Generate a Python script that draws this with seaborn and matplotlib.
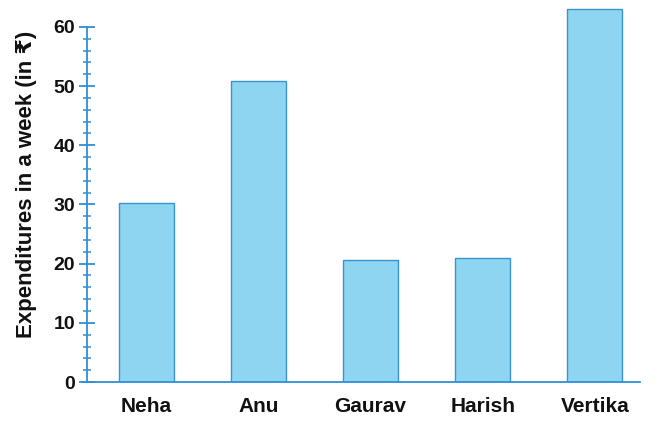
import matplotlib
matplotlib.use("Agg")
import matplotlib.pyplot as plt
import seaborn as sns
import pandas as pd
from matplotlib.ticker import MultipleLocator, FixedLocator

# values
names = ["Neha", "Anu", "Gaurav", "Harish", "Vertika"]
spend = [30.3, 50.8, 20.7, 21.0, 63.0]

sns.set_style("white")
plt.rcParams['font.family'] = ['Liberation Sans', 'DejaVu Sans']

axis_blue = "#2f8fd6"
bar_fill = "#8dd5f0"
bar_edge = "#3794cc"

df = pd.DataFrame({"name": names, "spend": spend})

fig = plt.figure(figsize=(6.72, 4.21), dpi=100)
ax = fig.add_axes([0.124, 0.0926, 0.828, 0.894])

sns.barplot(data=df, x="name", y="spend", order=names, color=bar_fill,
            saturation=1, edgecolor=bar_edge, linewidth=1.0, width=0.49, ax=ax)

ax.set_xlim(-0.56, 4.4)
ax.set_ylim(0, 63.6)

# axes look
for side in ["top", "right"]:
    ax.spines[side].set_visible(False)
ax.spines["left"].set_position(("data", -0.526))
ax.spines["left"].set_bounds(0, 60)
for side in ["left", "bottom"]:
    ax.spines[side].set_color(axis_blue)
    ax.spines[side].set_linewidth(1.3)

# minor ticks every 2 but only up to the top of the drawn axis
ax.yaxis.set_major_locator(MultipleLocator(10))
ax.yaxis.set_minor_locator(FixedLocator([v for v in range(2, 60, 2) if v % 10]))
ax.tick_params(axis="y", which="both", left=True)
ax.tick_params(axis="y", which="major", direction="inout", length=11,
               width=1.3, color=axis_blue, pad=3, labelsize=14)
ax.tick_params(axis="y", which="minor", direction="inout", length=6,
               width=1.1, color=axis_blue)
ax.tick_params(axis="x", length=0, pad=11, labelsize=15)

for lbl in ax.get_yticklabels() + ax.get_xticklabels():
    lbl.set_fontweight("bold")
    lbl.set_color("#111111")

ax.set_xlabel("")
ax.set_ylabel("Expenditures in a week (in ₹)", fontsize=16,
              fontweight="bold", color="#111111")
ax.yaxis.set_label_coords(-0.083, 0.525)

fig.savefig("out.png", dpi=100)
